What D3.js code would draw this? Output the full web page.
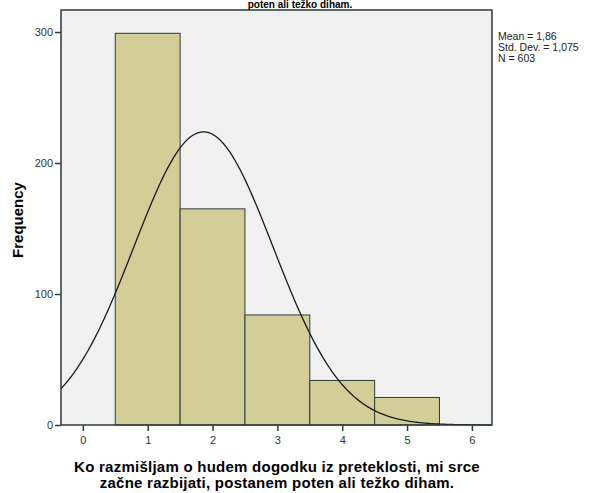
<!DOCTYPE html>
<html><head><meta charset="utf-8">
<script src="https://cdn.jsdelivr.net/npm/d3@7"></script>
<style>body{margin:0;background:#fff}svg{display:block}text{font-family:Arial,"Liberation Sans",sans-serif}</style>
</head><body><svg id="c" width="590" height="493"></svg>
<script>
const categories = [1, 2, 3, 4, 5];
const frequencies = [299, 165, 84, 34, 21];
const xTicks = [0, 1, 2, 3, 4, 5, 6];
const yTicks = [0, 100, 200, 300];
const statsLabels = ["Mean = 1,86", "Std. Dev. = 1,075", "N = 603"];
const mean = 1.86, sd = 1.075, n = 603;

const svg = d3.select("#c");
const L = 61, R = 492, T = 10, B = 425;
const x = d3.scaleLinear().domain([-0.337, 6.31]).range([L, R]);
const y = d3.scaleLinear().domain([0, 300]).range([B, 32]);

svg.append("rect").attr("x", L).attr("y", T).attr("width", R - L).attr("height", B - T).attr("fill", "#f0f0f0");

svg.append("g").selectAll("rect").data(categories).join("rect")
  .attr("x", d => x(d - 0.5)).attr("width", d => x(d + 0.5) - x(d - 0.5))
  .attr("y", (d, i) => y(frequencies[i])).attr("height", (d, i) => B - y(frequencies[i]))
  .attr("fill", "#d3ce97").attr("stroke", "#2e3b3b").attr("stroke-width", 1);

const pts = d3.range(-0.337, 6.31, 0.02).map(v => [v, n * Math.exp(-0.5 * ((v - mean) / sd) ** 2) / (sd * Math.sqrt(2 * Math.PI))]);
svg.append("path").datum(pts).attr("fill", "none").attr("stroke", "#1a1a1a").attr("stroke-width", 1.3)
  .attr("d", d3.line().x(d => x(d[0])).y(d => y(d[1])));

svg.append("rect").attr("x", L).attr("y", T).attr("width", R - L).attr("height", B - T)
  .attr("fill", "none").attr("stroke", "#2e3b3b").attr("stroke-width", 1.5);

const xa = svg.append("g").attr("transform", `translate(0,${B})`)
  .call(d3.axisBottom(x).tickValues(xTicks).tickSize(6).tickSizeOuter(0).tickFormat(d3.format("d")));
xa.select(".domain").remove();
xa.selectAll("line").attr("stroke", "#2e3b3b").attr("stroke-width", 1.5);
xa.selectAll("text").attr("font-size", 11).attr("fill", "#333").attr("dy", "0.9em");

const ya = svg.append("g").attr("transform", `translate(${L},0)`)
  .call(d3.axisLeft(y).tickValues(yTicks).tickSize(6).tickSizeOuter(0).tickFormat(d3.format("d")));
ya.select(".domain").remove();
ya.selectAll("line").attr("stroke", "#2e3b3b").attr("stroke-width", 1.5);
ya.selectAll("text").attr("font-size", 11).attr("fill", "#333").attr("dx", "0.1em");

svg.append("text").attr("x", 300).attr("y", 8).attr("text-anchor", "middle")
  .attr("font-size", 10).attr("font-weight", "bold").text("poten ali težko diham.");

svg.append("text").attr("transform", "translate(23,220) rotate(-90)").attr("text-anchor", "middle")
  .attr("font-size", 15).attr("font-weight", "bold").text("Frequency");

const xt = svg.append("text").attr("text-anchor", "middle").attr("font-size", 15).attr("font-weight", "bold")
  .attr("letter-spacing", "0.25px");
xt.append("tspan").attr("x", 277).attr("y", 472).text("Ko razmišljam o hudem dogodku iz preteklosti, mi srce");
xt.append("tspan").attr("x", 277).attr("y", 488).text("začne razbijati, postanem poten ali težko diham.");

svg.append("g").selectAll("text").data(statsLabels).join("text")
  .attr("x", 498).attr("y", (d, i) => 40 + i * 11).attr("font-size", 10.5).attr("fill", "#222").text(d => d);
</script></body></html>
